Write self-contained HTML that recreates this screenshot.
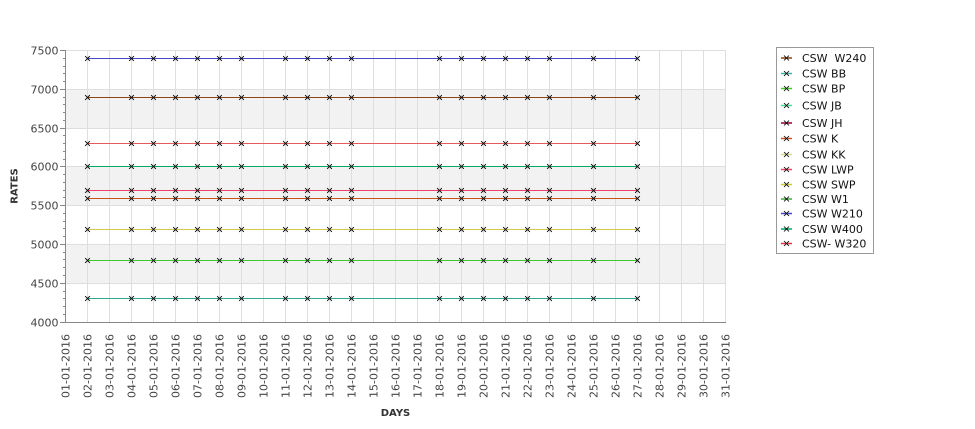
<!DOCTYPE html>
<html><head><meta charset="utf-8"><style>
html,body{margin:0;padding:0;background:#fff;}
svg{display:block;}
text{font-family:"DejaVu Sans","Liberation Sans",sans-serif;white-space:pre;}
.t{font-size:11px;fill:#444;}
.l{font-size:11px;fill:#111;}
.a{font-size:10px;font-weight:bold;fill:#333;}
</style></head><body>
<svg width="975" height="429" viewBox="0 0 975 429" xmlns="http://www.w3.org/2000/svg">
<defs>
<marker id="m" markerUnits="userSpaceOnUse" markerWidth="8" markerHeight="8" refX="4" refY="4" viewBox="0 0 8 8" overflow="visible"><path d="M1.6 1.6L6.4 6.4M1.6 6.4L6.4 1.6" stroke="#000" stroke-width="0.85" fill="none"/></marker>
<polyline id="s" fill="none" stroke-width="1" marker-start="url(#m)" marker-mid="url(#m)" marker-end="url(#m)" points="87.5,0 131.5,0 153.5,0 175.5,0 197.5,0 219.5,0 241.5,0 285.5,0 307.5,0 329.5,0 351.5,0 439.5,0 461.5,0 483.5,0 505.5,0 527.5,0 549.5,0 593.5,0 637.5,0"/>
</defs>
<!-- bands -->
<rect x="66" y="89" width="660" height="39" fill="#f2f2f2"/>
<rect x="66" y="166" width="660" height="39" fill="#f2f2f2"/>
<rect x="66" y="244" width="660" height="39" fill="#f2f2f2"/>
<!-- gridlines -->
<g stroke="#dedede" stroke-width="1" shape-rendering="crispEdges">
<path d="M66 50.5H726M66 89.5H726M66 128.5H726M66 166.5H726M66 205.5H726M66 244.5H726M66 283.5H726"/>
<path d="M87.5 50V322M109.5 50V322M131.5 50V322M153.5 50V322M175.5 50V322M197.5 50V322M219.5 50V322M241.5 50V322M263.5 50V322M285.5 50V322M307.5 50V322M329.5 50V322M351.5 50V322M373.5 50V322M395.5 50V322M417.5 50V322M439.5 50V322M461.5 50V322M483.5 50V322M505.5 50V322M527.5 50V322M549.5 50V322M571.5 50V322M593.5 50V322M615.5 50V322M637.5 50V322M659.5 50V322M681.5 50V322M703.5 50V322M725.5 50V322"/>
</g>
<!-- axes -->
<g stroke="#888" stroke-width="1" shape-rendering="crispEdges">
<path d="M65.5 50V323M65 322.5H726"/>
<path d="M60 50.5H65M60 89.5H65M60 128.5H65M60 166.5H65M60 205.5H65M60 244.5H65M60 283.5H65M60 322.5H65"/>
<path d="M63 58.5H65M63 66.5H65M63 73.5H65M63 81.5H65M63 97.5H65M63 104.5H65M63 112.5H65M63 120.5H65M63 135.5H65M63 143.5H65M63 151.5H65M63 159.5H65M63 174.5H65M63 182.5H65M63 190.5H65M63 197.5H65M63 213.5H65M63 221.5H65M63 228.5H65M63 236.5H65M63 252.5H65M63 259.5H65M63 267.5H65M63 275.5H65M63 291.5H65M63 298.5H65M63 306.5H65M63 314.5H65"/>
</g>
<!-- series -->
<use href="#s" transform="translate(0,58.5)" stroke="#4848c8"/>
<use href="#s" transform="translate(0,97.5)" stroke="#8b4513"/>
<use href="#s" transform="translate(0,143.5)" stroke="#e85a5a"/>
<use href="#s" transform="translate(0,166.5)" stroke="#00aa66"/>
<use href="#s" transform="translate(0,190.5)" stroke="#f0406a"/>
<use href="#s" transform="translate(0,198.5)" stroke="#c8541a"/>
<use href="#s" transform="translate(0,229.5)" stroke="#d4c850"/>
<use href="#s" transform="translate(0,260.5)" stroke="#3ccc2a"/>
<use href="#s" transform="translate(0,298.5)" stroke="#30a890"/>
<!-- y labels -->
<g class="t" text-anchor="end">
<text x="58.5" y="54.5">7500</text>
<text x="58.5" y="93.5">7000</text>
<text x="58.5" y="132.5">6500</text>
<text x="58.5" y="170.5">6000</text>
<text x="58.5" y="209.5">5500</text>
<text x="58.5" y="248.5">5000</text>
<text x="58.5" y="287.5">4500</text>
<text x="58.5" y="326.5">4000</text>
</g>
<!-- x labels -->
<g class="t" text-anchor="end">
<text transform="translate(69.5,334) rotate(-90)">01-01-2016</text>
<text transform="translate(91.5,334) rotate(-90)">02-01-2016</text>
<text transform="translate(113.5,334) rotate(-90)">03-01-2016</text>
<text transform="translate(135.5,334) rotate(-90)">04-01-2016</text>
<text transform="translate(157.5,334) rotate(-90)">05-01-2016</text>
<text transform="translate(179.5,334) rotate(-90)">06-01-2016</text>
<text transform="translate(201.5,334) rotate(-90)">07-01-2016</text>
<text transform="translate(223.5,334) rotate(-90)">08-01-2016</text>
<text transform="translate(245.5,334) rotate(-90)">09-01-2016</text>
<text transform="translate(267.5,334) rotate(-90)">10-01-2016</text>
<text transform="translate(289.5,334) rotate(-90)">11-01-2016</text>
<text transform="translate(311.5,334) rotate(-90)">12-01-2016</text>
<text transform="translate(333.5,334) rotate(-90)">13-01-2016</text>
<text transform="translate(355.5,334) rotate(-90)">14-01-2016</text>
<text transform="translate(377.5,334) rotate(-90)">15-01-2016</text>
<text transform="translate(399.5,334) rotate(-90)">16-01-2016</text>
<text transform="translate(421.5,334) rotate(-90)">17-01-2016</text>
<text transform="translate(443.5,334) rotate(-90)">18-01-2016</text>
<text transform="translate(465.5,334) rotate(-90)">19-01-2016</text>
<text transform="translate(487.5,334) rotate(-90)">20-01-2016</text>
<text transform="translate(509.5,334) rotate(-90)">21-01-2016</text>
<text transform="translate(531.5,334) rotate(-90)">22-01-2016</text>
<text transform="translate(553.5,334) rotate(-90)">23-01-2016</text>
<text transform="translate(575.5,334) rotate(-90)">24-01-2016</text>
<text transform="translate(597.5,334) rotate(-90)">25-01-2016</text>
<text transform="translate(619.5,334) rotate(-90)">26-01-2016</text>
<text transform="translate(641.5,334) rotate(-90)">27-01-2016</text>
<text transform="translate(663.5,334) rotate(-90)">28-01-2016</text>
<text transform="translate(685.5,334) rotate(-90)">29-01-2016</text>
<text transform="translate(707.5,334) rotate(-90)">30-01-2016</text>
<text transform="translate(729.5,334) rotate(-90)">31-01-2016</text>
</g>
<!-- axis titles -->
<text class="a" x="395.5" y="416" text-anchor="middle">DAYS</text>
<text class="a" transform="translate(17.5,186) rotate(-90)" text-anchor="middle">RATES</text>
<!-- legend -->
<rect x="776.5" y="47.5" width="97" height="206" fill="#fff" stroke="#999" stroke-width="1" shape-rendering="crispEdges"/>
<g stroke-width="1.5">
<path d="M781 58H792" stroke="#8b4513"/>
<path d="M781 73.5H792" stroke="#40b4a8"/>
<path d="M781 88.5H792" stroke="#44cc22"/>
<path d="M781 105.5H792" stroke="#44dd99"/>
<path d="M781 123H792" stroke="#990033"/>
<path d="M781 138.5H792" stroke="#cc5522"/>
<path d="M781 154.5H792" stroke="#dddd88"/>
<path d="M781 169.5H792" stroke="#ee4466"/>
<path d="M781 184.5H792" stroke="#cccc33"/>
<path d="M781 199H792" stroke="#44aa44"/>
<path d="M781 213.5H792" stroke="#4444cc"/>
<path d="M781 229H792" stroke="#00aa66"/>
<path d="M781 243.5H792" stroke="#ee3344"/>
</g>
<g stroke="#000" stroke-width="0.85" fill="none">
<path d="M784 55.5l5 5M784 60.5l5 -5"/>
<path d="M784 71l5 5M784 76l5 -5"/>
<path d="M784 86l5 5M784 91l5 -5"/>
<path d="M784 103l5 5M784 108l5 -5"/>
<path d="M784 120.5l5 5M784 125.5l5 -5"/>
<path d="M784 136l5 5M784 141l5 -5"/>
<path d="M784 152l5 5M784 157l5 -5"/>
<path d="M784 167l5 5M784 172l5 -5"/>
<path d="M784 182l5 5M784 187l5 -5"/>
<path d="M784 196.5l5 5M784 201.5l5 -5"/>
<path d="M784 211l5 5M784 216l5 -5"/>
<path d="M784 226.5l5 5M784 231.5l5 -5"/>
<path d="M784 241l5 5M784 246l5 -5"/>
</g>
<g class="l">
<text x="802" y="62">CSW  W240</text>
<text x="802" y="77.5">CSW BB</text>
<text x="802" y="92.5">CSW BP</text>
<text x="802" y="109.5">CSW JB</text>
<text x="802" y="127">CSW JH</text>
<text x="802" y="142.5">CSW K</text>
<text x="802" y="158.5">CSW KK</text>
<text x="802" y="173.5">CSW LWP</text>
<text x="802" y="188.5">CSW SWP</text>
<text x="802" y="203">CSW W1</text>
<text x="802" y="217.5">CSW W210</text>
<text x="802" y="233">CSW W400</text>
<text x="802" y="247.5">CSW- W320</text>
</g>
</svg>
</body></html>
